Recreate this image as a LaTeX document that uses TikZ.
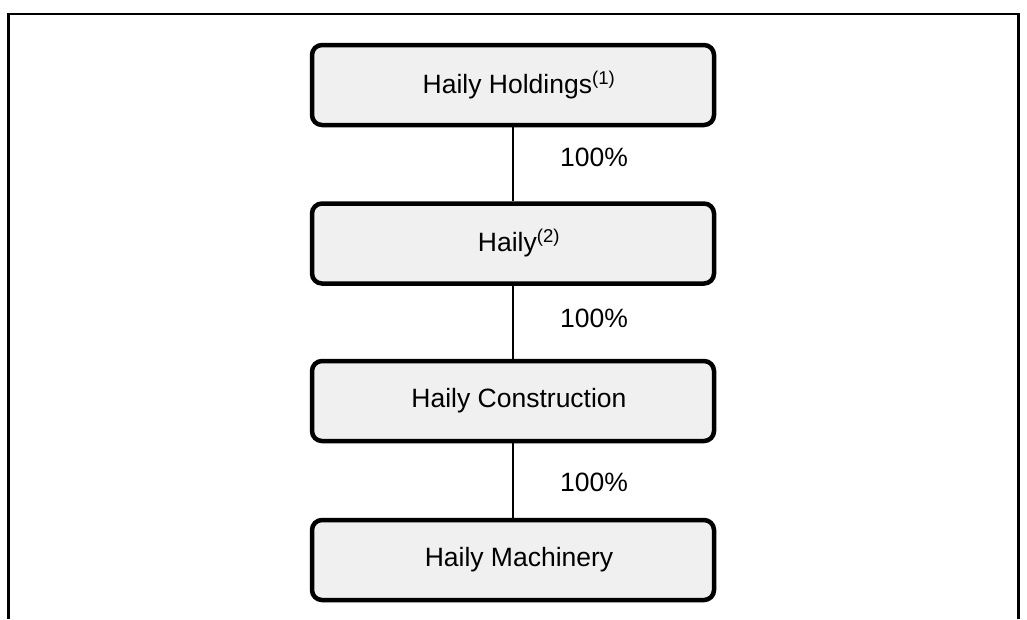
\documentclass[tikz,border=0pt]{standalone}
\usepackage{fontspec}
\setmainfont{Liberation Sans}
\begin{document}
\begin{tikzpicture}[x=1pt,y=-1pt,
  entity/.style={draw=black, line width=4.5pt, fill=black!6, rounded corners=10pt,
    minimum width=402pt, minimum height=80pt, inner sep=0pt,
    font=\fontsize{26.5}{32}\selectfont,
    execute at begin node={\hspace*{12pt}}},
  link/.style={draw=black, line width=1.5pt},
  share/.style={font=\fontsize{26.5}{32}\selectfont, inner sep=0pt}]
\useasboundingbox (0,0) rectangle (1027,619);
% open frame around the chart
\draw[line width=2.5pt] (8.5,619) -- (8.5,14) -- (1018.5,14) -- (1018.5,619);
% ownership chain
\node[entity] (hold) at (513,85)  {Haily Holdings\textsuperscript{(1)}};
\node[entity] (haily) at (513,243.5) {Haily\textsuperscript{(2)}};
\node[entity] (cons) at (513,401) {Haily Construction};
\node[entity] (mach) at (513,560) {Haily Machinery};
\draw[link] (hold) -- (haily);
\draw[link] (haily) -- (cons);
\draw[link] (cons) -- (mach);
\node[share] (p1) at (594,157) {100\%};
\node[share] (p2) at (594,318) {100\%};
\node[share] (p3) at (594,482) {100\%};
\end{tikzpicture}
\end{document}
